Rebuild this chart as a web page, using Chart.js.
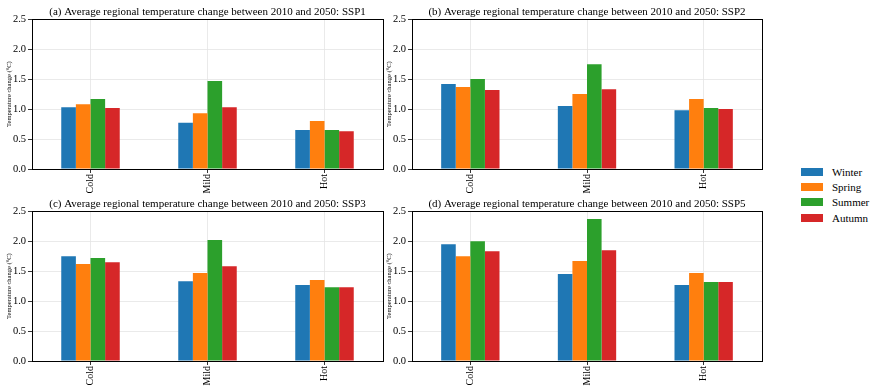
<!DOCTYPE html>
<html>
<head>
<meta charset="utf-8">
<script src="https://cdn.jsdelivr.net/npm/chart.js"></script>
<style>
  body { margin: 0; background: #fff; width: 871px; height: 386px; position: relative; overflow: hidden; }
  canvas { position: absolute; }
  #legend { position: absolute; left: 801px; top: 164px; font-family: 'Liberation Serif', 'Times New Roman', serif; font-size: 11px; color: #000; }
  .row { height: 15.3px; display: flex; align-items: center; white-space: nowrap; }
  .box { width: 22px; height: 8px; margin-right: 9px; display: inline-block; }
</style>
</head>
<body>
<canvas id="c1" width="390" height="198" style="left:0;top:0"></canvas>
<canvas id="c2" width="389" height="198" style="left:380px;top:0"></canvas>
<canvas id="c3" width="390" height="198" style="left:0;top:192px"></canvas>
<canvas id="c4" width="389" height="198" style="left:380px;top:192px"></canvas>
<div id="legend"></div>
<script>
// regions on the x axis, seasons as series
var regions = ['Cold', 'Mild', 'Hot']
var seasons = ['Winter', 'Spring', 'Summer', 'Autumn']
var seasonColors = ['#1f77b4', '#ff7f0e', '#2ca02c', '#d62728']

// one row per season, values for Cold / Mild / Hot (°C)
var ssp1 = [
    [1.03, 0.77, 0.65],
    [1.08, 0.93, 0.80],
    [1.17, 1.47, 0.65],
    [1.02, 1.03, 0.63]
]
var ssp2 = [
    [1.42, 1.05, 0.98],
    [1.37, 1.25, 1.17],
    [1.50, 1.75, 1.02],
    [1.32, 1.33, 1.00]
]
var ssp3 = [
    [1.75, 1.33, 1.27],
    [1.62, 1.47, 1.35],
    [1.72, 2.02, 1.23],
    [1.65, 1.58, 1.23]
]
var ssp5 = [
    [1.95, 1.45, 1.27],
    [1.75, 1.67, 1.47],
    [2.00, 2.37, 1.32],
    [1.83, 1.85, 1.32]
]

var yTicks = [0, 0.5, 1.0, 1.5, 2.0, 2.5]

var serif = "'Liberation Serif', 'Times New Roman', serif"

// matplotlib-like frame around the axes
var framePlugin = {
    id: 'frame',
    afterDraw: function(chart){
        var a = chart.chartArea
        var ctx = chart.ctx
        ctx.save()
        ctx.strokeStyle = '#000'
        ctx.lineWidth = 1
        ctx.strokeRect(Math.round(a.left) + 0.5, Math.round(a.top) + 0.5,
                       Math.round(a.right - a.left), Math.round(a.bottom - a.top))
        ctx.restore()
    }
}

function makeChart(id, title, values){
    var datasets = seasons.map(function(s, i){
        return {
            label: s,
            data: values[i],
            backgroundColor: seasonColors[i],
            borderWidth: 0,
            categoryPercentage: 0.5,
            barPercentage: 1.0
        }
    })
    return new Chart(document.getElementById(id), {
        type: 'bar',
        data: { labels: regions, datasets: datasets },
        plugins: [framePlugin],
        options: {
            responsive: false,
            animation: false,
            layout: { padding: { left: 0, right: 7, top: 0, bottom: 4 } },
            plugins: {
                legend: { display: false },
                tooltip: { enabled: false },
                title: {
                    display: true,
                    text: title,
                    fullSize: false,
                    color: '#000',
                    font: { family: serif, size: 11, weight: 'normal' },
                    padding: { top: 5.5, bottom: 0.5 }
                }
            },
            scales: {
                x: {
                    offset: true,
                    grid: { offset: false, color: '#e5e5e5', lineWidth: 0.8, tickColor: '#000', tickLength: 4 },
                    border: { color: '#000', width: 1 },
                    ticks: { color: '#000', font: { family: serif, size: 10 }, minRotation: 90, maxRotation: 90, padding: 1 },
                    afterFit: function(scale){ scale.height = 25 }
                },
                y: {
                    min: 0,
                    max: 2.5,
                    afterBuildTicks: function(scale){
                        scale.ticks = yTicks.map(function(v){ return { value: v } })
                    },
                    grid: { color: '#e5e5e5', lineWidth: 0.8, tickColor: '#000', tickLength: 4 },
                    border: { color: '#000', width: 1 },
                    ticks: {
                        color: '#000',
                        font: { family: serif, size: 10.5 },
                        padding: 2,
                        callback: function(v){ return Number(v).toFixed(1) }
                    },
                    title: {
                        display: true,
                        text: 'Temperature change (°C)',
                        color: '#000',
                        font: { family: serif, size: 6.5 },
                        padding: { top: 5, bottom: 0 }
                    },
                    afterFit: function(scale){ scale.width = 32 }
                }
            }
        }
    })
}

makeChart('c1', '(a) Average regional temperature change between 2010 and 2050: SSP1', ssp1)
makeChart('c2', '(b) Average regional temperature change between 2010 and 2050: SSP2', ssp2)
makeChart('c3', '(c) Average regional temperature change between 2010 and 2050: SSP3', ssp3)
makeChart('c4', '(d) Average regional temperature change between 2010 and 2050: SSP5', ssp5)

// shared legend on the right
var legend = document.getElementById('legend')
seasons.forEach(function(s, i){
    var row = document.createElement('div')
    row.className = 'row'
    var box = document.createElement('span')
    box.className = 'box'
    box.style.background = seasonColors[i]
    row.appendChild(box)
    row.appendChild(document.createTextNode(s))
    legend.appendChild(row)
})
</script>
</body>
</html>
